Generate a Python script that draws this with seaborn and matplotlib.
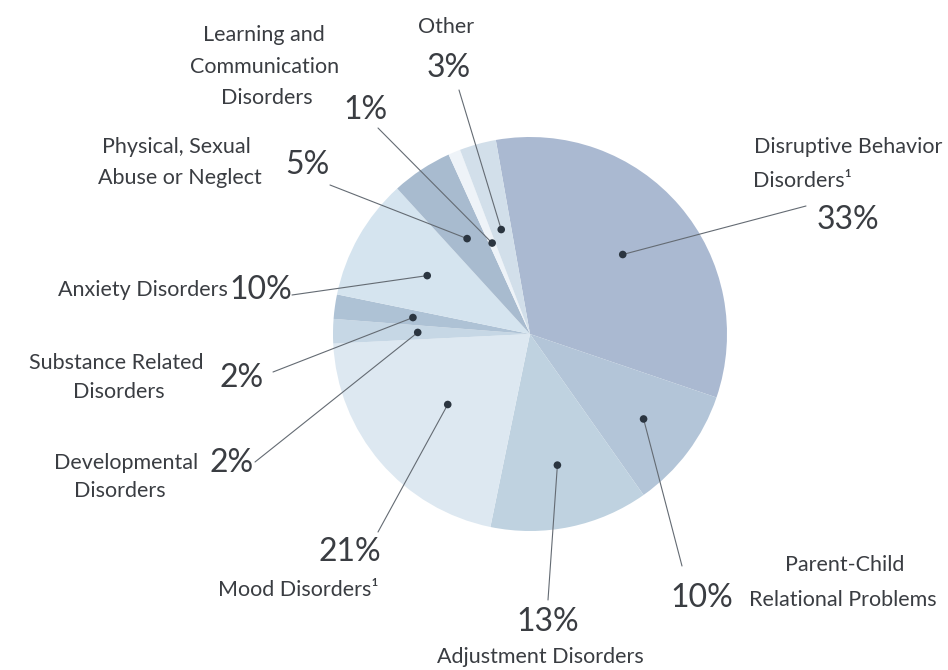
import matplotlib
matplotlib.use("Agg")
import matplotlib.pyplot as plt
import seaborn as sns
import numpy as np
import pandas as pd

categories = ["Disruptive Behavior Disorders", "Parent-Child Relational Problems",
              "Adjustment Disorders", "Mood Disorders", "Developmental Disorders",
              "Substance Related Disorders", "Anxiety Disorders",
              "Physical, Sexual Abuse or Neglect",
              "Learning and Communication Disorders", "Other"]
values = [33, 10, 13, 21, 2, 2, 10, 5, 1, 3]
pct_labels = ["33%", "10%", "13%", "21%", "2%", "2%", "10%", "5%", "1%", "3%"]
name_lines = [["Disruptive Behavior", "Disorders\u00b9"],
              ["Parent-Child", "Relational Problems"],
              ["Adjustment Disorders"],
              ["Mood Disorders\u00b9"],
              ["Developmental", "Disorders"],
              ["Substance Related", "Disorders"],
              ["Anxiety Disorders"],
              ["Physical, Sexual", "Abuse or Neglect"],
              ["Learning and", "Communication", "Disorders"],
              ["Other"]]
colors = ["#aab9d1", "#b3c5d8", "#bfd2e0", "#dde8f1", "#c6d7e5",
          "#aec2d5", "#d5e4ef", "#a8bbcf", "#eef3f8", "#d2dfea"]

sns.set_theme(style="white")
plt.rcParams['font.family'] = ['Lato', 'DejaVu Sans']

W, H = 948, 670
fig = plt.figure(figsize=(W / 100, H / 100), dpi=100)
ax = fig.add_axes([0, 0, 1, 1])

def Y(y):
    return H - y

cx, cy, R = 530, Y(334), 197
wedges, _ = ax.pie(values, colors=colors, startangle=100, counterclock=False,
                   center=(cx, cy), radius=R, frame=True,
                   wedgeprops=dict(linewidth=0))
ax.set_xlim(0, W)
ax.set_ylim(0, H)
ax.set_aspect("equal")
ax.axis("off")

# dot positions derived from wedge angles
dot_r = [0.62, 0.72, 0.68, 0.55, 0.57, 0.6, 0.6, 0.58, 0.5, 0.55]
dx, dy = [], []
for w, fr in zip(wedges, dot_r):
    a = np.deg2rad((w.theta1 + w.theta2) / 2)
    dx.append(cx + R * fr * np.cos(a))
    dy.append(cy + R * fr * np.sin(a))
dots = pd.DataFrame({"x": dx, "y": dy, "cat": categories})

# label anchors (end of leader lines)
line_end = [(806, 206), (682, 566), (548, 600), (378, 532), (255, 462),
            (273, 372), (292, 295), (330, 185), (378, 128), (459, 90)]
lc = "#646b73"
for (x0, y0), (x1, y1) in zip(zip(dx, dy), line_end):
    ax.plot([x0, x1], [y0, Y(y1)], color=lc, lw=0.8, zorder=3)
sns.scatterplot(data=dots, x="x", y="y", ax=ax, color="#2b3540", s=30,
                edgecolor="none", zorder=4, legend=False)

tc = "#3a3d42"
fs_name = 15.5
fs_pct = 23

# name text lines: (x, y, ha)
name_pos = [[(848, 147, "center"), (802, 181, "center")],
            [(845, 565, "center"), (937, 600, "right")],
            [(540, 657, "center")],
            [(298, 590, "center")],
            [(126, 463, "center"), (120, 491, "center")],
            [(116, 363, "center"), (119, 392, "center")],
            [(228, 290, "right")],
            [(176, 147, "center"), (180, 178, "center")],
            [(264, 35, "center"), (265, 67, "center"), (267, 98, "center")],
            [(446, 27, "center")]]
pct_pos = [(848, 220, "center"), (733, 598, "right"), (548, 622, "center"),
           (350, 552, "center"), (232, 463, "center"), (242, 378, "center"),
           (261, 290, "center"), (307, 165, "center"), (365, 110, "center"),
           (449, 68, "center")]

for lines, poss in zip(name_lines, name_pos):
    for t, (x, y, ha) in zip(lines, poss):
        ax.text(x, Y(y), t, ha=ha, va="center", fontsize=fs_name, color=tc)
for t, (x, y, ha) in zip(pct_labels, pct_pos):
    ax.text(x, Y(y), t, ha=ha, va="center", fontsize=fs_pct, color=tc)

fig.savefig("out.png", dpi=100, facecolor="white")
